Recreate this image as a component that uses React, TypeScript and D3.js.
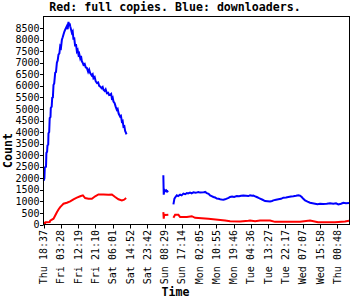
import React from "react";
import * as d3 from "d3";

const title = "Red: full copies. Blue: downloaders.";
const yLabel = "Count";
const xLabel = "Time";

const yTicks = [0, 500, 1000, 1500, 2000, 2500, 3000, 3500, 4000, 4500, 5000, 5500, 6000, 6500, 7000, 7500, 8000, 8500];

const xTickLabels = [
  "Thu 18:37", "Fri 03:28", "Fri 12:19", "Fri 21:10", "Sat 06:01", "Sat 14:52",
  "Sat 23:42", "Sun 08:29", "Sun 17:14", "Mon 02:05", "Mon 10:55", "Mon 19:46",
  "Tue 04:36", "Tue 13:27", "Tue 22:17", "Wed 07:07", "Wed 15:58", "Thu 00:48",
];

// hours since Thu 18:37, value
const blue1: [number, number][] = [
  [0.10, 1900], [0.46, 2000], [0.66, 2480], [1.28, 2500], [1.48, 3100], [1.84, 3150],
  [2.04, 3430], [2.40, 3450], [2.55, 3950], [2.91, 4000], [3.17, 4600], [3.58, 4650],
  [3.73, 5040], [4.19, 5100], [4.44, 5480], [4.80, 5500], [5.11, 6040], [5.47, 6100],
  [5.98, 6570], [6.39, 6600], [6.84, 7000], [7.25, 7100], [7.66, 7350], [8.12, 7400],
  [8.53, 7710], [8.94, 7650], [9.40, 8000], [9.81, 8100], [10.22, 8220], [10.68, 8350],
  [11.08, 8430], [11.49, 8500], [11.95, 8580], [12.36, 8450], [12.77, 8770], [13.13, 8600],
  [13.38, 8700], [13.64, 8580], [14.05, 8450], [14.51, 8290], [14.92, 8350], [15.32, 8000],
  [15.68, 8100], [16.19, 7710], [16.60, 7800], [17.06, 7490], [17.47, 7550], [17.88, 7350],
  [18.24, 7400], [18.75, 7200], [19.16, 7300], [19.62, 7060], [20.02, 7000], [20.43, 6910],
  [21.05, 6950], [21.56, 6800], [22.17, 6770], [22.83, 6600], [23.34, 6700], [23.85, 6550],
  [24.62, 6450], [25.13, 6500], [25.54, 6330], [26.15, 6380], [26.66, 6200], [27.28, 6120],
  [27.94, 6150], [28.45, 6000], [28.96, 5970], [29.73, 5900], [30.24, 5950], [30.65, 5830],
  [31.26, 5780], [31.77, 5850], [32.39, 5680], [33.05, 5700], [33.56, 5600], [34.07, 5610],
  [34.58, 5650], [34.94, 5460], [35.35, 5500], [35.76, 5320], [36.37, 5250], [36.88, 5100],
  [37.49, 4960], [37.90, 5000], [38.41, 4800], [39.18, 4670], [39.59, 4700], [40.05, 4450],
  [40.46, 4480], [40.87, 4230], [41.33, 4250], [41.73, 4050], [42.25, 3940], [42.40, 3900],
];

const blue2: [number, number][] = [
  [61.25, 2130], [61.45, 1290], [61.76, 1500], [62.17, 1440], [62.68, 1480], [63.19, 1420], [63.80, 1450],
];

const blue3: [number, number][] = [
  [66.40, 870], [66.92, 1120], [67.53, 1200], [68.14, 1260], [68.81, 1230], [69.83, 1290],
  [70.59, 1260], [71.51, 1335], [72.38, 1310], [73.25, 1360], [73.91, 1340], [74.93, 1380],
  [75.70, 1350], [76.62, 1390], [77.74, 1370], [79.17, 1405], [80.04, 1380], [81.73, 1390],
  [82.60, 1410], [83.46, 1360], [84.38, 1330], [85.15, 1260], [85.92, 1230], [86.84, 1190],
  [87.71, 1170], [88.57, 1120], [89.49, 1110], [90.26, 1090], [91.03, 1080], [91.94, 1075],
  [92.81, 1090], [93.68, 1120], [94.60, 1150], [95.37, 1190], [96.39, 1210], [97.41, 1190],
  [98.79, 1230], [99.96, 1220], [100.99, 1240], [102.16, 1250], [103.54, 1240], [104.71, 1230],
  [105.58, 1260], [106.61, 1240], [107.27, 1250], [108.14, 1220], [109.01, 1190], [109.93, 1150],
  [110.69, 1120], [111.97, 1070], [113.25, 1015], [114.52, 1010], [115.80, 1000], [116.82, 1020],
  [117.49, 1045], [118.87, 1070], [120.04, 1090], [121.42, 1110], [122.59, 1160], [123.97, 1170],
  [125.15, 1190], [126.53, 1210], [127.70, 1220], [129.08, 1240], [130.25, 1260], [131.12, 1250],
  [131.99, 1190], [132.91, 1100], [133.68, 1045], [134.96, 990], [136.23, 940], [137.51, 920],
  [138.79, 900], [140.06, 880], [141.34, 900], [142.87, 890], [144.76, 900], [146.45, 920],
  [148.13, 900], [149.51, 920], [150.69, 870], [152.07, 900], [153.24, 940], [154.62, 920],
  [156.15, 925],
];

const red1: [number, number][] = [
  [0.10, 60], [0.87, 60], [1.02, 100], [3.17, 110], [3.42, 170], [5.11, 250], [5.98, 390],
  [6.84, 530], [7.66, 650], [8.53, 750], [9.40, 830], [10.22, 900], [11.95, 940], [13.64, 1000],
  [15.32, 1090], [17.06, 1160], [18.75, 1220], [20.12, 1260], [21.30, 1145], [22.99, 1115],
  [24.72, 1115], [26.41, 1220], [28.09, 1300], [30.65, 1300], [33.20, 1290], [34.94, 1300],
  [36.63, 1190], [38.31, 1090], [40.05, 1045], [41.22, 1075], [42.25, 1145],
];

const red2: [number, number][] = [
  [61.25, 535], [61.45, 250], [61.66, 430], [62.42, 410], [63.80, 420],
];

const red3: [number, number][] = [
  [66.40, 290], [67.27, 420], [68.96, 420], [69.83, 320], [73.25, 320], [75.81, 360],
  [77.49, 290], [84.28, 250], [92.81, 175], [95.37, 145], [100.48, 130], [104.71, 160],
  [105.58, 175], [108.14, 145], [110.69, 175], [115.80, 175], [118.36, 115], [126.02, 115],
  [131.12, 115], [136.23, 175], [140.32, 100], [149.00, 100], [154.11, 130], [156.15, 160],
];

const dayIndex: Record<string, number> = { Thu: 0, Fri: 1, Sat: 2, Sun: 3, Mon: 4, Tue: 5, Wed: 6 };
function labelHours(lbl: string, i: number): number {
  const [d, t] = lbl.split(" ");
  const [hh, mm] = t.split(":").map(Number);
  let day = dayIndex[d];
  if (i > 0 && d === "Thu") day = 7;
  return day * 24 + hh + mm / 60 - (18 + 37 / 60);
}

const W = 350, H = 300;

export default function App() {
  const x = d3.scaleLinear().domain([0, 156.4]).range([43.5, 349.5]);
  const y = d3.scaleLinear().domain([0, 9000]).range([224.5, 16.5]);
  const line = d3.line<[number, number]>().x((d) => x(d[0])).y((d) => y(d[1]));
  const mono = "'DejaVu Sans Mono', monospace";
  const xt = xTickLabels.map((l, i) => ({ l, h: labelHours(l, i) }));

  return (
    <svg width={W} height={H} style={{ position: "absolute", left: 0, top: 0, background: "#fff" }}>
      <rect x={0} y={0} width={W} height={H} fill="#fff" />
      {[blue1, blue2, blue3].map((s, i) => (
        <path key={"b" + i} d={line(s) || ""} fill="none" stroke="#0000ff" strokeWidth={2} strokeLinejoin="miter" />
      ))}
      {[red1, red2, red3].map((s, i) => (
        <path key={"r" + i} d={line(s) || ""} fill="none" stroke="#ff0000" strokeWidth={2} />
      ))}
      <rect x={x(0)} y={y(9000)} width={x(156.4) - x(0)} height={y(0) - y(9000)} fill="none" stroke="#000" strokeWidth={1} />
      {yTicks.map((t) => (
        <g key={t}>
          <line x1={x(0) - 3.5} x2={x(0)} y1={Math.round(y(t)) + 0.5} y2={Math.round(y(t)) + 0.5} stroke="#000" />
          <text x={39.5} y={y(t)} dy="0.36em" textAnchor="end" fontFamily={mono} fontSize={10} fill="#000">
            {t}
          </text>
        </g>
      ))}
      {xt.map(({ l, h }) => (
        <g key={l}>
          <line x1={Math.round(x(h)) + 0.5} x2={Math.round(x(h)) + 0.5} y1={y(0)} y2={y(0) + 4} stroke="#000" />
          <text
            transform={`translate(${x(h)},230) rotate(-90)`}
            dy="0.36em"
            textAnchor="end"
            fontFamily={mono}
            fontSize={10}
            fill="#000"
          >
            {l}
          </text>
        </g>
      ))}
      <text x={175} y={11} textAnchor="middle" fontFamily={mono} fontWeight="bold" fontSize={11.6} fill="#000">
        {title}
      </text>
      <text x={175.5} y={296} textAnchor="middle" fontFamily={mono} fontWeight="bold" fontSize={11.6} fill="#000">
        {xLabel}
      </text>
      <text transform="translate(11.5,150.5) rotate(-90)" textAnchor="middle" fontFamily={mono} fontWeight="bold" fontSize={11.6} fill="#000">
        {yLabel}
      </text>
    </svg>
  );
}
